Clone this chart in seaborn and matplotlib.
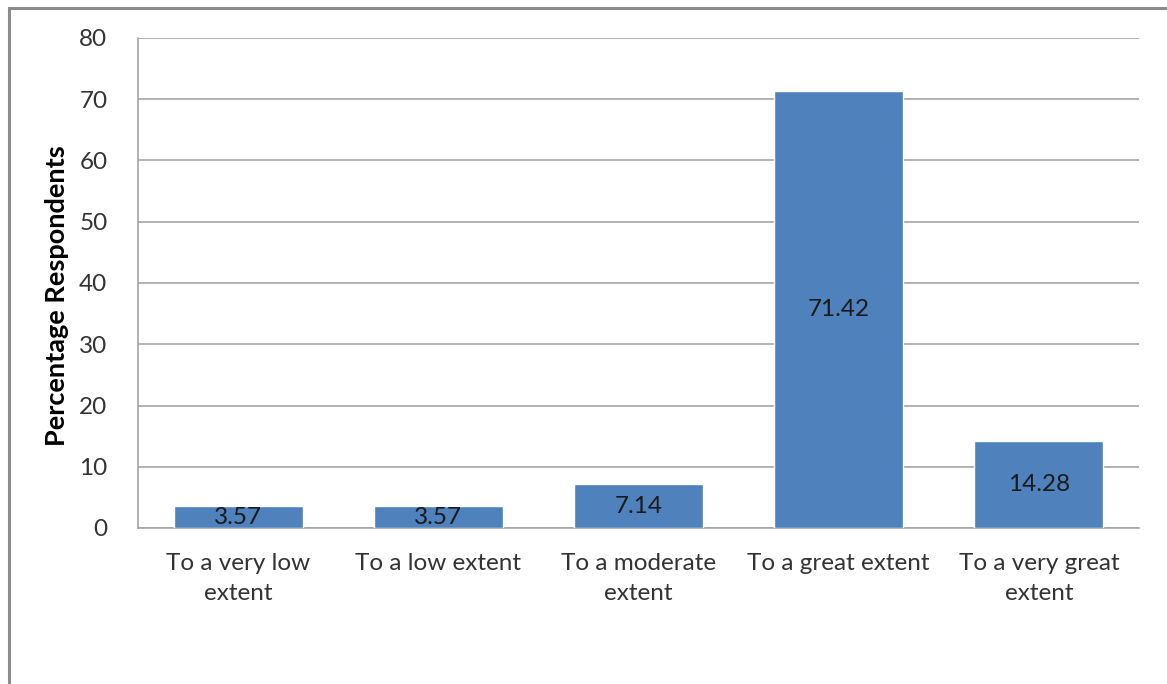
import matplotlib
matplotlib.use("Agg")
import matplotlib.pyplot as plt
import seaborn as sns
import pandas as pd
from matplotlib.patches import Rectangle

categories = ["To a very low\nextent", "To a low extent", "To a moderate\nextent",
              "To a great extent", "To a very great\nextent"]
percentages = [3.57, 3.57, 7.14, 71.42, 14.28]
value_labels = ["3.57", "3.57", "7.14", "71.42", "14.28"]
y_ticks = [0, 10, 20, 30, 40, 50, 60, 70, 80]

sns.set_theme(style="white")
plt.rcParams["font.family"] = ["Lato", "DejaVu Sans"]

W, H = 1167, 684
fig = plt.figure(figsize=(W / 100, H / 100), dpi=100)
ax = fig.add_axes([138 / W, 1 - 528 / H, (1139 - 138) / W, (528 - 38) / H])

df = pd.DataFrame({"cat": categories, "pct": percentages})
sns.barplot(data=df, x="cat", y="pct", color="#4f81bd", saturation=1,
            width=0.645, ax=ax, zorder=3)

ax.set_ylim(0, 80)
ax.set_yticks(y_ticks)
ax.set_xlim(-0.5, len(categories) - 0.5)
ax.yaxis.grid(True, color="#a6a6a6", linewidth=1.2, zorder=0)
ax.set_axisbelow(True)
for side in ["top", "right"]:
    ax.spines[side].set_visible(False)
for side in ["left", "bottom"]:
    ax.spines[side].set_color("#a6a6a6")
    ax.spines[side].set_linewidth(1.2)

ax.tick_params(axis="both", length=0, labelsize=17.5, colors="#333333")
ax.tick_params(axis="y", pad=22)
ax.tick_params(axis="x", pad=18)
for lbl in ax.get_xticklabels():
    lbl.set_linespacing(1.55)
ax.set_xlabel("")
ax.set_ylabel("Percentage Respondents", fontsize=19.5, fontweight="bold",
              color="black")
ax.yaxis.set_label_coords(-0.069, 0.474)

for bar, txt in zip(ax.patches, value_labels):
    ax.text(bar.get_x() + bar.get_width() / 2, bar.get_height() / 2, txt,
            ha="center", va="center", fontsize=17.5, color="#1a1a1a", zorder=4)

# outer chart frame
fig.patches.append(Rectangle((9 / W, -0.1), 1.2, 1 - 8 / H + 0.1,
                             transform=fig.transFigure, fill=False,
                             edgecolor="#8c8c8c", linewidth=2.2))

fig.savefig("out.png", dpi=100)
